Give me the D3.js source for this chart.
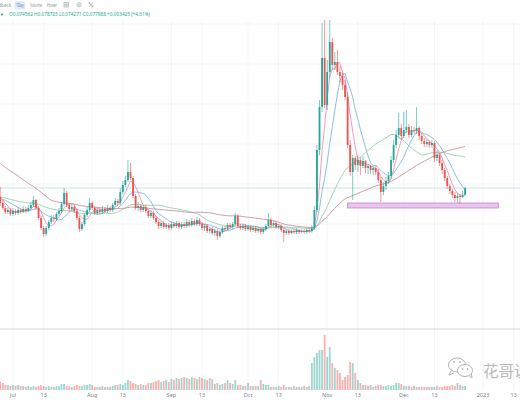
<!DOCTYPE html>
<html>
<head>
<meta charset="utf-8">
<script src="https://cdn.jsdelivr.net/npm/d3@7"></script>
<style>
  body { margin: 0; background: #fff; }
  svg { display: block; font-family: "Noto Sans", Roboto, sans-serif; }
</style>
</head>
<body>
<div id="chart"></div>
<script>
// daily candles, 26 Jun 2022 .. 24 Dec 2022
const firstDay = "2022-06-26";
const firstOpen = 0.0735;

// closes before the visible window, only used to warm up the moving averages
const earlierCloses = [0.128,0.125,0.122,0.118,0.114,0.116,0.12,0.124,0.122,0.119,0.121,0.118,0.12,0.123,0.12,0.117,0.121,0.124,0.12,0.118,
  0.084,0.082,0.083,0.081,0.079,0.08,0.078,0.077,0.079,0.078,0.076,0.075,0.077,0.076,0.074,0.075,0.076,0.074,0.073,0.075,
  0.074,0.073,0.072,0.074,0.073,0.071,0.072,0.074,0.073,0.072,0.071,0.072,0.074,0.073,0.072,0.073,0.074,0.074,0.0735];

const closes = [0.0705,0.068,0.066,0.067,0.065,0.0665,0.0655,0.067,0.066,0.0675,0.0665,0.068,0.0695,0.072,0.068,0.063,0.058,0.055,0.058,0.061,
  0.063,0.0625,0.065,0.0665,0.07,0.0755,0.0695,0.0675,0.0685,0.0665,0.063,0.0575,0.06,0.0645,0.067,0.0705,0.068,0.0655,0.067,0.066,
  0.0675,0.0665,0.068,0.067,0.0695,0.0715,0.0705,0.076,0.0795,0.082,0.086,0.083,0.074,0.068,0.069,0.067,0.0685,0.0665,0.064,0.0655,
  0.063,0.061,0.059,0.0605,0.0585,0.0595,0.058,0.06,0.059,0.0605,0.0585,0.06,0.059,0.061,0.0595,0.0615,0.06,0.062,0.06,0.058,
  0.059,0.0565,0.0575,0.0555,0.0565,0.054,0.056,0.058,0.0575,0.0595,0.0585,0.06,0.064,0.059,0.058,0.059,0.0575,0.0585,0.057,0.058,
  0.0565,0.0575,0.056,0.0575,0.059,0.062,0.0595,0.0605,0.0585,0.059,0.057,0.0555,0.0565,0.0555,0.0565,0.056,0.057,0.056,0.0565,0.056,
  0.057,0.0565,0.058,0.067,0.097,0.1185,0.143,0.1195,0.136,0.151,0.1395,0.141,0.136,0.134,0.1295,0.1235,0.0995,0.086,0.093,0.0895,
  0.092,0.089,0.0915,0.088,0.089,0.087,0.088,0.086,0.082,0.076,0.079,0.0815,0.084,0.092,0.0995,0.1045,0.108,0.104,0.107,0.1085,
  0.1045,0.107,0.1065,0.108,0.104,0.1015,0.1,0.101,0.0995,0.1005,0.093,0.0945,0.0905,0.087,0.083,0.079,0.0765,0.0745,0.073,0.074,
  0.0735,0.074562,0.077988];

const highs = [0.0785,0.072,0.069,0.0685,0.068,0.068,0.0675,0.0685,0.068,0.069,0.0685,0.0695,0.071,0.074,0.0725,0.069,0.064,0.059,0.059,0.062,
  0.0645,0.0645,0.066,0.068,0.071,0.078,0.0765,0.0705,0.07,0.0695,0.0675,0.064,0.061,0.0655,0.0685,0.073,0.0715,0.069,0.068,0.068,
  0.069,0.0685,0.0695,0.069,0.0705,0.073,0.0725,0.078,0.0815,0.084,0.092,0.0905,0.084,0.075,0.071,0.07,0.0695,0.0695,0.0675,0.067,
  0.0665,0.064,0.062,0.0615,0.0615,0.0605,0.0605,0.061,0.061,0.0615,0.0615,0.061,0.061,0.0625,0.062,0.063,0.0625,0.0635,0.063,0.061,
  0.06,0.06,0.0585,0.0585,0.0575,0.0575,0.057,0.059,0.059,0.0605,0.0605,0.061,0.0655,0.065,0.06,0.06,0.06,0.0595,0.0595,0.059,
  0.059,0.0585,0.0585,0.0585,0.06,0.0655,0.063,0.0615,0.0615,0.06,0.06,0.058,0.0575,0.0575,0.0575,0.0575,0.058,0.0575,0.0575,0.0575,
  0.058,0.058,0.0595,0.069,0.0995,0.122,0.1605,0.1655,0.142,0.168,0.153,0.146,0.147,0.139,0.136,0.132,0.126,0.102,0.0945,0.094,
  0.0945,0.0935,0.094,0.092,0.09,0.0895,0.089,0.089,0.0875,0.0835,0.081,0.0835,0.086,0.094,0.102,0.107,0.1155,0.11,0.116,0.117,
  0.11,0.109,0.1085,0.1185,0.109,0.1055,0.103,0.1025,0.102,0.102,0.1015,0.097,0.0955,0.092,0.088,0.084,0.08,0.0775,0.076,0.0755,
  0.075,0.0765,0.078725];

const lows = [0.069,0.067,0.065,0.065,0.064,0.064,0.0645,0.0645,0.065,0.0655,0.0655,0.066,0.067,0.0685,0.067,0.062,0.057,0.0535,0.054,0.057,
  0.06,0.061,0.0615,0.064,0.0655,0.069,0.0685,0.066,0.0665,0.0655,0.062,0.056,0.0565,0.059,0.0635,0.066,0.067,0.0645,0.0645,0.065,
  0.065,0.0655,0.0655,0.066,0.066,0.0685,0.069,0.0695,0.075,0.0785,0.081,0.082,0.073,0.067,0.0665,0.066,0.066,0.0655,0.063,0.063,
  0.062,0.06,0.0575,0.058,0.0575,0.0575,0.057,0.057,0.058,0.058,0.0575,0.0575,0.058,0.058,0.0585,0.0585,0.059,0.059,0.059,0.057,
  0.0565,0.0555,0.055,0.0545,0.054,0.052,0.053,0.055,0.0565,0.0565,0.0575,0.0575,0.059,0.058,0.057,0.057,0.0565,0.0565,0.056,0.056,
  0.0555,0.0555,0.055,0.055,0.0565,0.0585,0.0585,0.0585,0.0575,0.0575,0.056,0.051,0.0545,0.0545,0.055,0.055,0.055,0.055,0.0555,0.055,
  0.055,0.0555,0.0555,0.057,0.066,0.0945,0.116,0.118,0.117,0.133,0.137,0.137,0.1345,0.131,0.127,0.122,0.098,0.084,0.072,0.087,
  0.086,0.0845,0.088,0.0855,0.085,0.085,0.0845,0.0845,0.0805,0.071,0.0745,0.077,0.08,0.0825,0.0905,0.098,0.103,0.102,0.103,0.1055,
  0.103,0.1035,0.105,0.105,0.102,0.1,0.0985,0.0985,0.098,0.098,0.091,0.0915,0.089,0.085,0.0815,0.0775,0.075,0.073,0.071,0.0705,
  0.07,0.073,0.074271];

const volumes = [8,7,5,5,4,5,4,5,4,4,3,4,3,4,3,4,5,4,3,4,3,3,4,4,6,6,4,4,3,4,5,4,4,5,5,6,5,3,3,3,4,3,3,3,4,5,5,6,5,
  7,10,9,7,6,5,6,5,5,7,7,8,9,10,8,9,10,8,11,10,12,11,12,13,12,11,13,12,11,13,12,11,10,12,11,6,7,5,6,7,10,7,6,10,
  5,5,4,4,7,4,4,4,4,10,6,5,5,3,3,3,4,3,5,3,3,3,4,3,3,3,4,3,4,
  27,33,37,40,40,55,33,43,27,22,20,17,10,13,15,28,27,17,10,7,5,5,4,5,3,4,5,5,4,4,5,4,5,7,7,6,4,4,4,3,4,3,
  3,3,3,3,3,3,3,4,3,3,4,4,4,5,4,7,5,4,4];

const tickDates = ["2022-07-01","2022-07-13","2022-08-01","2022-08-13","2022-09-01","2022-09-13","2022-10-01",
  "2022-10-13","2022-11-01","2022-11-13","2022-12-01","2022-12-13","2023-01-01","2023-01-13"];
const tickLabels = ["Jul","13","Aug","13","Sep","13","Oct","13","Nov","13","Dec","13","2023","13"];

const maPeriods = [5, 10, 30, 60];
const maColors = ["#f48fb1", "#7cb9e0", "#8fd3a8", "#cf8ea3"];

const zoneDates = ["2022-11-09", "2023-01-07"];
const zonePrices = [0.068, 0.0705];

const legendText = "O0.074562 H0.078725 L0.074271 C0.077988 +0.003425 (+4.61%)";
const toolbarItems = ["Feedback", "1Day", "Volume", "Hover"];
const watermark = "花哥说币";

const W = 520, H = 400;
const upColor = "#26a69a", downColor = "#ef5350";

const parse = d3.utcParse("%Y-%m-%d");
const start = parse(firstDay);
const data = closes.map((c, i) => ({
  date: d3.utcDay.offset(start, i),
  open: i === 0 ? firstOpen : closes[i - 1],
  high: highs[i],
  low: lows[i],
  close: c,
  volume: volumes[i]
}));

const x = d3.scaleUtc()
  .domain([parse("2022-07-01"), parse("2023-01-01")])
  .range([13, 483]);
const y = d3.scaleLinear().domain([0.04, 0.18]).range([264, -16]);
const yv = d3.scaleLinear().domain([0, 55]).range([390, 335]);

const svg = d3.select("#chart").append("svg")
  .attr("width", W).attr("height", H)
  .attr("viewBox", `0 0 ${W} ${H}`);

svg.append("rect").attr("width", W).attr("height", H).attr("fill", "#fff");

svg.append("defs").append("clipPath").attr("id", "pane")
  .append("rect").attr("x", 0).attr("y", 20).attr("width", W).attr("height", 308);

// grid
const grid = svg.append("g").attr("stroke", "#f1f2f6").attr("stroke-width", 0.8);
grid.selectAll(".vg").data(tickDates).join("line")
  .attr("x1", d => x(parse(d))).attr("x2", d => x(parse(d)))
  .attr("y1", 20).attr("y2", 390);
grid.selectAll(".hg").data([0.06, 0.08, 0.1, 0.12, 0.14, 0.16]).join("line")
  .attr("x1", 0).attr("x2", W)
  .attr("y1", d => y(d)).attr("y2", d => y(d));

// pane separator
svg.append("line").attr("x1", 0).attr("x2", W).attr("y1", 329).attr("y2", 329)
  .attr("stroke", "#d6d8de").attr("stroke-width", 1.2);

const pane = svg.append("g").attr("clip-path", "url(#pane)");

// support zone
pane.append("rect")
  .attr("x", x(parse(zoneDates[0])))
  .attr("width", x(parse(zoneDates[1])) - x(parse(zoneDates[0])))
  .attr("y", y(zonePrices[1]))
  .attr("height", y(zonePrices[0]) - y(zonePrices[1]))
  .attr("fill", "#e9c6ef").attr("stroke", "#c77fd3").attr("stroke-width", 0.8);

// last price line
const last = data[data.length - 1];
pane.append("line").attr("x1", 0).attr("x2", W)
  .attr("y1", y(last.close)).attr("y2", y(last.close))
  .attr("stroke", "#b5e2d6").attr("stroke-width", 0.8);

// moving averages
const allCloses = earlierCloses.concat(closes);
const off = earlierCloses.length;
maPeriods.forEach((n, k) => {
  const pts = data.map((d, i) => {
    const j = i + off;
    return [d.date, d3.mean(allCloses.slice(Math.max(0, j - n + 1), j + 1))];
  });
  pane.append("path")
    .datum(pts)
    .attr("fill", "none")
    .attr("stroke", maColors[k])
    .attr("stroke-width", 0.9)
    .attr("d", d3.line().x(p => x(p[0])).y(p => y(p[1])));
});

// candles
const bw = 1.8;
const candles = pane.selectAll(".c").data(data).join("g");
candles.append("line")
  .attr("x1", d => x(d.date)).attr("x2", d => x(d.date))
  .attr("y1", d => y(d.high)).attr("y2", d => y(d.low))
  .attr("stroke", d => d.close >= d.open ? upColor : downColor)
  .attr("stroke-width", 0.6);
candles.append("rect")
  .attr("x", d => x(d.date) - bw / 2)
  .attr("width", bw)
  .attr("y", d => y(Math.max(d.open, d.close)))
  .attr("height", d => Math.max(0.6, Math.abs(y(d.open) - y(d.close))))
  .attr("fill", d => d.close >= d.open ? upColor : downColor);

// volume
svg.append("g").selectAll("rect").data(data).join("rect")
  .attr("x", d => x(d.date) - bw / 2)
  .attr("width", bw)
  .attr("y", d => yv(d.volume))
  .attr("height", d => yv(0) - yv(d.volume))
  .attr("fill", d => d.close >= d.open ? upColor : downColor)
  .attr("fill-opacity", 0.45);

// time axis
svg.append("g").selectAll("text").data(tickDates).join("text")
  .attr("x", d => x(parse(d)))
  .attr("y", 397)
  .attr("text-anchor", "middle")
  .attr("font-size", 5.5)
  .attr("fill", "#7b7f8a")
  .text((d, i) => tickLabels[i]);

// toolbar
const tb = svg.append("g").attr("font-size", 4.4).attr("fill", "#8c909b");
tb.append("text").attr("x", 11).attr("y", 6.8).attr("text-anchor", "end").text(toolbarItems[0]);
tb.append("rect").attr("x", 15).attr("y", 1.8).attr("width", 9.5).attr("height", 7).attr("rx", 1.2)
  .attr("fill", "#e3effc").attr("stroke", "#b8d4f4").attr("stroke-width", 0.5);
tb.append("text").attr("x", 19.75).attr("y", 6.8).attr("text-anchor", "middle").attr("fill", "#4a78b8")
  .attr("textLength", 7.5).attr("lengthAdjust", "spacingAndGlyphs").text(toolbarItems[1]);
tb.append("text").attr("x", 30).attr("y", 6.8)
  .attr("textLength", 12).attr("lengthAdjust", "spacingAndGlyphs").text(toolbarItems[2]);
tb.append("text").attr("x", 47).attr("y", 6.8)
  .attr("textLength", 10).attr("lengthAdjust", "spacingAndGlyphs").text(toolbarItems[3]);
const icons = tb.append("g").attr("fill", "none").attr("stroke", "#9a9ea8").attr("stroke-width", 0.6);
icons.append("rect").attr("x", 64).attr("y", 2.5).attr("width", 4.5).attr("height", 4.5);
icons.append("path").attr("d", "M64 4.75h4.5M66.25 2.5v4.5");
icons.append("circle").attr("cx", 79).attr("cy", 4.75).attr("r", 2.2);
icons.append("circle").attr("cx", 79).attr("cy", 4.75).attr("r", 0.8);
icons.append("path").attr("d", "M89 2.5l4 4.5M93 2.5l-4 4.5M89 2.5h1.5M89 2.5v1.5M93 7h-1.5M93 7v-1.5");

// legend
svg.append("circle").attr("cx", 2).attr("cy", 14.5).attr("r", 1.1).attr("fill", upColor);
svg.append("text").attr("x", 9).attr("y", 16)
  .attr("font-size", 4.6).attr("fill", upColor)
  .attr("textLength", 141).attr("lengthAdjust", "spacingAndGlyphs")
  .text(legendText);

// watermark
const wm = svg.append("g").attr("fill", "#fff").attr("stroke", "#b3b3b3").attr("stroke-width", 1);
wm.append("ellipse").attr("cx", 457).attr("cy", 365).attr("rx", 8.5).attr("ry", 7);
wm.append("ellipse").attr("cx", 465).attr("cy", 370.5).attr("rx", 7.5).attr("ry", 6);
wm.append("path").attr("d", "M451 371l-2 4 5-2").attr("fill", "none");
wm.append("path").attr("d", "M469 375.5l3 2.5-0.5-4").attr("fill", "none");
[[454, 362], [460, 362], [462.5, 369], [467.5, 369]].forEach(p =>
  wm.append("circle").attr("cx", p[0]).attr("cy", p[1]).attr("r", 0.9).attr("fill", "#b3b3b3").attr("stroke", "none"));
svg.append("text").attr("x", 483).attr("y", 377)
  .attr("font-size", 15.5)
  .attr("font-family", "'Noto Sans CJK SC', sans-serif")
  .attr("fill", "#b8b8b8")
  .text(watermark);
</script>
</body>
</html>
